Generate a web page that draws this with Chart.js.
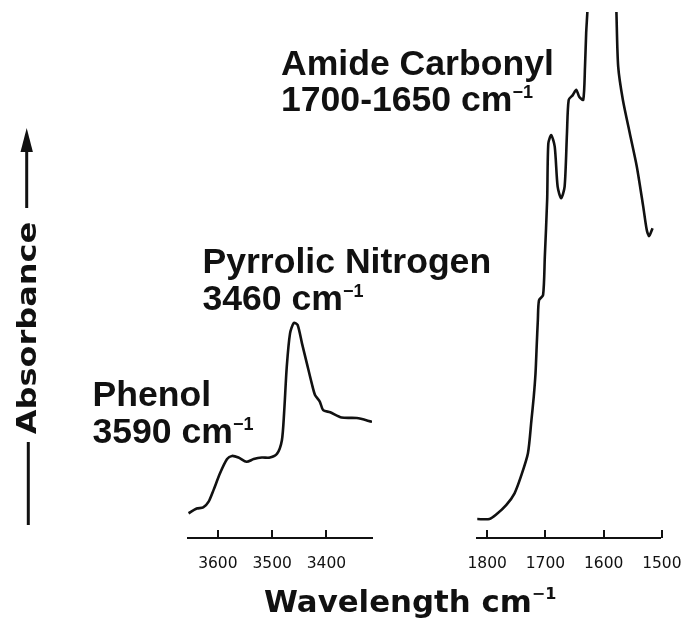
<!DOCTYPE html>
<html>
<head>
<meta charset="utf-8">
<script src="https://cdn.jsdelivr.net/npm/chart.js@4.4.1/dist/chart.umd.min.js"></script>
<style>
  html, body { margin: 0; padding: 0; background: #fff; }
  #wrap { position: relative; width: 681px; height: 622px; overflow: hidden; background: #fff; }
  canvas { position: absolute; top: 0; }
  #cLeft { left: 0; }
  #cRight { left: 420px; }
  .note { position: absolute; font-family: "Liberation Sans", Arial, sans-serif; font-weight: bold;
          font-size: 35.6px; line-height: 36.7px; color: #111; white-space: nowrap; }
  .sup { font-size: 18px; position: relative; top: -13px; }
  #xTitle { position: absolute; left: 264px; top: 586px; font-family: "DejaVu Sans", sans-serif; font-weight: bold;
            font-size: 30.8px; line-height: 30px; color: #111; white-space: nowrap; }
  #xTitle .sup { font-size: 16px; top: -13px; }
  #yTitle { position: absolute; left: 26.5px; top: 328px; font-family: "DejaVu Sans", sans-serif; font-weight: bold;
            font-size: 26px; line-height: 26px; color: #111; white-space: nowrap;
            transform: translate(-50%, -50%) rotate(-90deg) scaleX(1.23); }
  svg { position: absolute; left: 0; top: 0; }
</style>
</head>
<body>
<div id="wrap">
  <canvas id="cLeft" width="420" height="622"></canvas>
  <canvas id="cRight" width="261" height="622"></canvas>
  <svg width="60" height="622">
    <line x1="26.7" y1="148" x2="26.7" y2="208" stroke="#111" stroke-width="3"/>
    <polygon points="26.7,128 20.5,152 32.9,152" fill="#111"/>
    <line x1="28.3" y1="442" x2="28.3" y2="525" stroke="#111" stroke-width="3"/>
  </svg>
  <div id="yTitle">Absorbance</div>
  <div id="xTitle">Wavelength cm<span class="sup">−1</span></div>
  <div class="note" style="left:281px; top:44.5px;">Amide Carbonyl<br>1700-1650 cm<span class="sup">−1</span></div>
  <div class="note" style="left:202.5px; top:242.8px;">Pyrrolic Nitrogen<br>3460 cm<span class="sup">−1</span></div>
  <div class="note" style="left:92.5px; top:376.2px;">Phenol<br>3590 cm<span class="sup">−1</span></div>
</div>
<script>
// ---- Data (wavenumber in cm-1, absorbance in arbitrary units 0-100) ----
const leftWavenumbers = [3654, 3639, 3627, 3617, 3608, 3596, 3583, 3574, 3562, 3547, 3534, 3519, 3504, 3491,
  3482, 3478, 3473, 3467, 3460, 3453, 3445, 3436, 3427, 3421, 3412, 3406, 3393, 3372, 3344, 3316];
const leftAbsorbance = [4.7, 5.6, 5.8, 6.9, 9.1, 12.3, 15.0, 15.6, 15.3, 14.5, 15.0, 15.3, 15.3, 16.0,
  18.6, 23.7, 32.6, 38.9, 40.9, 40.5, 37.0, 33.2, 29.4, 27.2, 25.9, 24.3, 23.9, 22.9, 22.8, 22.1];

const rightWavenumbers = [1817, 1796, 1785, 1767, 1753, 1742, 1730, 1724, 1720, 1717, 1715, 1713, 1711, 1704,
  1701, 1697, 1695, 1690, 1684, 1679, 1673, 1667, 1663, 1660, 1653, 1647, 1642, 1635, 1632, 1630, 1628,
  1597, 1578, 1575, 1567, 1555, 1543, 1532, 1526, 1522, 1516];
const rightAbsorbance = [3.6, 3.6, 4.4, 6.3, 8.5, 11.7, 16.1, 22.4, 26.9, 31.3, 36.4, 41.4, 45.2, 46.2,
  53.5, 64.3, 75.0, 76.6, 74.4, 66.8, 64.6, 66.8, 76.9, 83.3, 84.2, 85.2, 83.9, 83.3, 89.6, 96.0, 99.9,
  170, 99.8, 89.6, 83.3, 76.9, 70.6, 63.0, 58.6, 57.4, 58.9];

const leftTicks = [3600, 3500, 3400];
const rightTicks = [1800, 1700, 1600, 1500];
const leftRange = [3316, 3655];
const rightRange = [1502, 1818];

// ---- helpers ----
const ink = '#111';
const upTicks = {
  id: 'upTicks',
  afterDraw(chart) {
    const s = chart.scales.x, ctx = chart.ctx, y0 = chart.chartArea.bottom;
    ctx.save();
    ctx.strokeStyle = ink; ctx.lineWidth = 2;
    s.ticks.forEach(t => {
      const x = Math.round(s.getPixelForValue(t.value));
      ctx.beginPath(); ctx.moveTo(x, y0); ctx.lineTo(x, y0 - 8); ctx.stroke();
    });
    ctx.restore();
  }
};

function makeChart(id, xs, ys, ticks, range, pad) {
  return new Chart(document.getElementById(id), {
    type: 'line',
    data: { datasets: [{
      data: xs.map((x, i) => ({ x: x, y: ys[i] })),
      borderColor: ink, borderWidth: 2.6, pointRadius: 0, tension: 0.25, fill: false
    }]},
    options: {
      responsive: false, animation: false, events: [],
      layout: { padding: pad },
      plugins: { legend: { display: false }, tooltip: { enabled: false } },
      scales: {
        x: {
          type: 'linear', reverse: true, min: range[0], max: range[1],
          afterBuildTicks: s => { s.ticks = ticks.map(v => ({ value: v })); },
          afterFit: s => { s.height = 84; s.paddingLeft = 0; s.paddingRight = 0; },
          grid: { display: false, drawTicks: false },
          border: { display: true, color: ink, width: 2 },
          ticks: { color: ink, padding: 17, maxRotation: 0, autoSkip: false,
                   font: { family: 'DejaVu Sans', size: 15.5 }, callback: v => String(v) }
        },
        y: { display: false, min: 0, max: 100 }
      }
    },
    plugins: [upTicks]
  });
}

makeChart('cLeft', leftWavenumbers, leftAbsorbance, leftTicks, leftRange, { left: 188, right: 48, top: 12, bottom: 0 });
makeChart('cRight', rightWavenumbers, rightAbsorbance, rightTicks, rightRange, { left: 56.7, right: 20.3, top: 12, bottom: 0 });
</script>
</body>
</html>
